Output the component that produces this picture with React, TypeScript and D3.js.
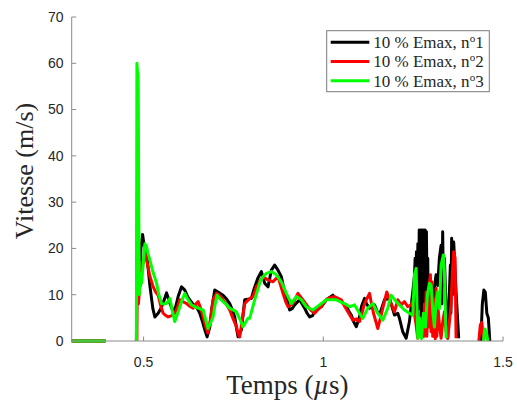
import React from "react";
import * as d3 from "d3";

// ---- data (time in µs, speed in m/s); NaN marks a gap in the record ----
const tBlack = [0.3, 0.394, NaN, 0.480, 0.4828, 0.4856, 0.4897, 0.4925, 0.4972, 0.5008, 0.5083, 0.5175, 0.5258, 0.5314, 0.5406, 0.5481, 0.5544, 0.5639, 0.5731, 0.5822, 0.5897, 0.5961, 0.6056, 0.6147, 0.6231, 0.6286, 0.6369, 0.6472, 0.6564, 0.6647, 0.6703, 0.6767, 0.6842, 0.6897, 0.6981, 0.7072, 0.7147, 0.7211, 0.7314, 0.7397, 0.7481, 0.7536, 0.7592, 0.7628, 0.7722, 0.7772, 0.7814, 0.7897, 0.8000, 0.8064, 0.8175, 0.8278, 0.8369, 0.8461, 0.8556, 0.8647, 0.8739, 0.8833, 0.8897, 0.8972, 0.9064, 0.9133, 0.9203, 0.9342, 0.9481, 0.9550, 0.9619, 0.9703, 0.9758, 0.9842, 0.9944, 1.0083, 1.0267, 1.0342, 1.0453, 1.0536, 1.0639, 1.0703, 1.0778, 1.0842, 1.0917, 1.1008, 1.1064, 1.1147, 1.1203, 1.1286, 1.1425, 1.1494, 1.1564, 1.1703, 1.1842, 1.1981, 1.2072, 1.2119, 1.2211, 1.2306, 1.2397, 1.2489, 1.2536, 1.2556, 1.2572, 1.2592, 1.2611, 1.2631, 1.2650, 1.2669, 1.2686, 1.2703, 1.2719, 1.2736, 1.2753, 1.2769, 1.2786, 1.2803, 1.2819, 1.2836, 1.2853, 1.2869, 1.2886, 1.2906, 1.2925, 1.2953, 1.3000, 1.3072, 1.3139, 1.3183, 1.3231, 1.3278, 1.3300, 1.3322, 1.3340, 1.3369, 1.3417, 1.3461, 1.3536, 1.3550, 1.3572, 1.3595, 1.3628, 1.3694, 1.3767, NaN, 1.4383, 1.4425, 1.4467, 1.4508, 1.4550, 1.4592, 1.4633];
const vBlack = [0, 0, NaN, 0, 26, 10, 12, 20, 23, 21, 19, 12, 7, 5.2, 6, 7, 8.2, 10.4, 8.2, 6.3, 7.5, 9.6, 11.7, 11, 9.5, 8.9, 8, 7.4, 6, 4, 2.4, 0.9, 3, 7, 11, 10.6, 10.2, 9.9, 9, 8.1, 6.5, 5.2, 2.5, 0.9, 2.4, 6, 8.9, 9, 9.2, 11, 13.5, 15, 12.5, 11.7, 15.3, 16.4, 15.3, 13.9, 11.5, 9.6, 6.7, 7, 7.8, 8.9, 7.1, 6, 5.2, 5.5, 6.3, 7, 7.4, 8.9, 9.9, 9.2, 8.9, 8.2, 7.8, 6.5, 5.6, 4.2, 3.1, 5.2, 7.5, 9.2, 8, 7.1, 7.8, 6.5, 5.6, 8.9, 9.2, 5.6, 6, 4.9, 2, 0.6, 4.2, 10.6, 14, 17.9, 6, 19.3, 4, 21, 7, 24, 10, 24, 5, 24, 9, 24, 6, 24, 8, 24, 5, 23.6, 12, 17.9, 4, 10.6, 2.7, 10.6, 14.3, 12, 18, 20.7, 8, 23.6, 12, 17.9, 7, 0.6, 16.4, 6, 22.2, 10, 21.4, 10.6, 0.6, NaN, 0, 8, 11, 10.5, 6, 5, 0];

const tRed = [0.3, 0.394, NaN, 0.4814, 0.4828, 0.4856, 0.4897, 0.4939, 0.4989, 0.5036, 0.5083, 0.5175, 0.5267, 0.5342, 0.5406, 0.5481, 0.5544, 0.5619, 0.5683, 0.5786, 0.5869, 0.5953, 0.6008, 0.6092, 0.6194, 0.6286, 0.6378, 0.6453, 0.6517, 0.6592, 0.6656, 0.6731, 0.6794, 0.6869, 0.6933, 0.7028, 0.7119, 0.7211, 0.7314, 0.7397, 0.7481, 0.7583, 0.7633, 0.7675, 0.7744, 0.7814, 0.7925, 0.8044, 0.8139, 0.8231, 0.8322, 0.8461, 0.8600, 0.8739, 0.8814, 0.8878, 0.8953, 0.9017, 0.9156, 0.9294, 0.9433, 0.9572, 0.9675, 0.9758, 0.9842, 0.9944, 1.0036, 1.0128, 1.0314, 1.0500, 1.0592, 1.0683, 1.0822, 1.0925, 1.1008, 1.1078, 1.1147, 1.1286, 1.1342, 1.1397, 1.1517, 1.1592, 1.1656, 1.1767, 1.1889, 1.1981, 1.2072, 1.2167, 1.2258, 1.2350, 1.2444, 1.2481, 1.2583, 1.2628, 1.2675, 1.2722, 1.2767, 1.2800, 1.2814, 1.2835, 1.2861, 1.2880, 1.2906, 1.2925, 1.2945, 1.2981, 1.3000, 1.3020, 1.3044, 1.3065, 1.3092, 1.3115, 1.3139, 1.3160, 1.3183, 1.3231, 1.3278, 1.3322, 1.3369, 1.3417, 1.3461, 1.3508, 1.3556, 1.3592, 1.3628, 1.3667, 1.3694, NaN, 1.4328, 1.4369, 1.4411, 1.4453];
const vRed = [0, 0, NaN, 0, 32, 8, 12, 17, 16.8, 19, 17.5, 14, 11.7, 10.5, 9.9, 7.5, 6, 5.5, 5.2, 5.5, 6, 7.5, 8.9, 8.5, 8.1, 7.5, 7.1, 8, 8.5, 7, 5.2, 3, 1.7, 5, 8.9, 10.3, 9.8, 8.9, 7.8, 6.7, 5, 3.1, 1.5, 0.9, 4.5, 8.1, 9, 9.6, 11.7, 12.8, 13.9, 13.2, 12.8, 13.9, 12, 10.3, 8.5, 7.4, 8.1, 10.3, 8.9, 7.4, 6.5, 6, 6.7, 7.4, 8.5, 9.2, 9.6, 8.9, 7.5, 6.3, 4.5, 4.8, 4.2, 6, 8.1, 10.3, 8, 6, 2.7, 5, 7.1, 10.6, 8.1, 6.3, 8.9, 7.8, 8.5, 7.4, 7.8, 8.5, 3.5, 0.6, 5, 4.8, 3.5, 1, 8, 2, 10.6, 1, 7, 3, 12, 14.3, 2, 12.8, 1, 9, 7, 0.5, 11.4, 1, 8, 3.5, 0.6, 4, 6.3, 2, 0.6, 4, 8, 15, 19.3, 17.9, 0.6, NaN, 0, 3.5, 4, 0.5];

const tGreen = [0.3, 0.394, NaN, 0.480, 0.4814, 0.4833, 0.4850, 0.4869, 0.4883, 0.4897, 0.4944, 0.4994, 0.5036, 0.5083, 0.5119, 0.5175, 0.5258, 0.5361, 0.5425, 0.5500, 0.5564, 0.5639, 0.5731, 0.5800, 0.5869, 0.5939, 0.6008, 0.6078, 0.6147, 0.6231, 0.6333, 0.6425, 0.6517, 0.6656, 0.6731, 0.6794, 0.6869, 0.6933, 0.6981, 0.7044, 0.7119, 0.7211, 0.7314, 0.7397, 0.7583, 0.7675, 0.7767, 0.7906, 0.7953, 0.8008, 0.8092, 0.8231, 0.8314, 0.8417, 0.8556, 0.8694, 0.8833, 0.8972, 0.9111, 0.9250, 0.9389, 0.9528, 0.9711, 0.9897, 1.0083, 1.0361, 1.0592, 1.0731, 1.0869, 1.1008, 1.1100, 1.1239, 1.1378, 1.1517, 1.1656, 1.1794, 1.1889, 1.2028, 1.2119, 1.2258, 1.2397, 1.2489, 1.2536, 1.2583, 1.2628, 1.2675, 1.2731, 1.2786, 1.2842, 1.2897, 1.2953, 1.3000, 1.3050, 1.3092, 1.3133, 1.3183, 1.3231, 1.3278, 1.3342, 1.3369, 1.3417, NaN, 1.4453, 1.4494, 1.4536, 1.4578];
const vGreen = [0, 0, NaN, 0, 60, 58, 57.4, 25, 10, 14.7, 12.5, 17, 21, 20.4, 19, 17.5, 15, 12.5, 10, 8.1, 8, 8.1, 9.2, 6.5, 4.2, 5.8, 7.4, 9, 10.3, 9, 7.8, 7.4, 7.1, 6.7, 4.5, 2.7, 4, 5.2, 7.5, 9.9, 9.2, 8.5, 7.8, 7.1, 6.3, 4.8, 3.1, 4.9, 4.9, 6.5, 8.9, 12.5, 13.8, 14.6, 15, 14.3, 12.8, 10.3, 8.1, 9.6, 8.9, 7.4, 6.7, 7.8, 8.9, 8.9, 8.1, 7.4, 7.8, 6, 4.9, 7.1, 8.1, 6, 4.5, 7.1, 9.9, 8.5, 7.8, 6.7, 6, 5.6, 14.3, 15.7, 0.6, 5, 0.5, 6, 3, 10, 12.5, 12.1, 6, 3, 8, 10.6, 7, 16.4, 18.6, 15, 0.6, NaN, 0, 2.6, 2, 0];

const seriesNames = ["10 % Emax, n", "10 % Emax, n", "10 % Emax, n"];
const seriesNumbers = ["1", "2", "3"];
const seriesColors = ["#000000", "#ff0000", "#00ff00"];

const xTicks = [0.5, 1, 1.5];
const yTicks = [0, 10, 20, 30, 40, 50, 60, 70];
const xDomain = [0.3, 1.5];
const yDomain = [0, 70];

type Pt = { t: number; v: number };
const zip = (t: number[], v: number[]): Pt[] => t.map((tt, i) => ({ t: tt, v: v[i] }));

export default function App() {
  const W = 517, H = 406;
  const left = 71.7, right = 503, top = 17, bottom = 341;
  const x = d3.scaleLinear().domain(xDomain).range([left, right]);
  const y = d3.scaleLinear().domain(yDomain).range([bottom, top]);
  const line = d3
    .line<Pt>()
    .defined((d) => !isNaN(d.t) && !isNaN(d.v))
    .x((d) => x(d.t))
    .y((d) => y(d.v));

  const series = [zip(tBlack, vBlack), zip(tRed, vRed), zip(tGreen, vGreen)];
  const axisColor = "#8a8a8a";
  const textColor = "#262626";
  const sans = "'Liberation Sans', Arial, sans-serif";
  const serif = "'Liberation Serif', 'Times New Roman', serif";

  const legX = 326.7, legY = 30.7, legW = 162.6, legH = 61;
  const legRows = [42.3, 61.5, 80.7];

  return (
    <svg width={W} height={H} style={{ position: "absolute", left: 0, top: 0, background: "#fff" }}>
      <rect x={0} y={0} width={W} height={H} fill="#fff" />
      {/* data */}
      {series.map((s, i) => (
        <path key={i} d={line(s) || ""} fill="none" stroke={seriesColors[i]} strokeWidth={3} strokeLinejoin="round" strokeLinecap="butt" />
      ))}
      {/* axes */}
      <line x1={left} x2={left} y1={top} y2={bottom} stroke={axisColor} strokeWidth={1} />
      <line x1={left} x2={right} y1={bottom} y2={bottom} stroke={axisColor} strokeWidth={1} />
      {yTicks.map((t) => (
        <g key={"y" + t}>
          <line x1={left} x2={left + 4.5} y1={y(t)} y2={y(t)} stroke={axisColor} />
          <text x={63.5} y={y(t)} dy="0.35em" textAnchor="end" fontFamily={sans} fontSize={14} fill={textColor}>
            {t}
          </text>
        </g>
      ))}
      {xTicks.map((t) => (
        <g key={"x" + t}>
          <line x1={x(t)} x2={x(t)} y1={bottom} y2={bottom - 4.5} stroke={axisColor} />
          <text x={x(t)} y={366.5} textAnchor="middle" fontFamily={sans} fontSize={14} fill={textColor}>
            {t}
          </text>
        </g>
      ))}
      {/* axis labels */}
      <text x={(left + right) / 2} y={394} textAnchor="middle" fontFamily={serif} fontSize={27} fill={textColor}>
        Temps (<tspan fontStyle="italic">µ</tspan>s)
      </text>
      <text transform={`translate(33,171) rotate(-90)`} textAnchor="middle" fontFamily={serif} fontSize={26} fill={textColor}>
        Vitesse (m/s)
      </text>
      {/* legend */}
      <rect x={legX} y={legY} width={legW} height={legH} fill="#fff" stroke="#7a7a7a" strokeWidth={1} />
      {legRows.map((ry, i) => (
        <g key={"l" + i}>
          <line x1={330.7} x2={369.3} y1={ry} y2={ry} stroke={seriesColors[i]} strokeWidth={3} />
          <text x={373.3} y={ry} dy="0.35em" fontFamily={serif} fontSize={17} fill={textColor}>
            {seriesNames[i]}
            <tspan fontSize={11} dy={-6}>o</tspan>
            <tspan dy={6}>{seriesNumbers[i]}</tspan>
          </text>
        </g>
      ))}
    </svg>
  );
}
